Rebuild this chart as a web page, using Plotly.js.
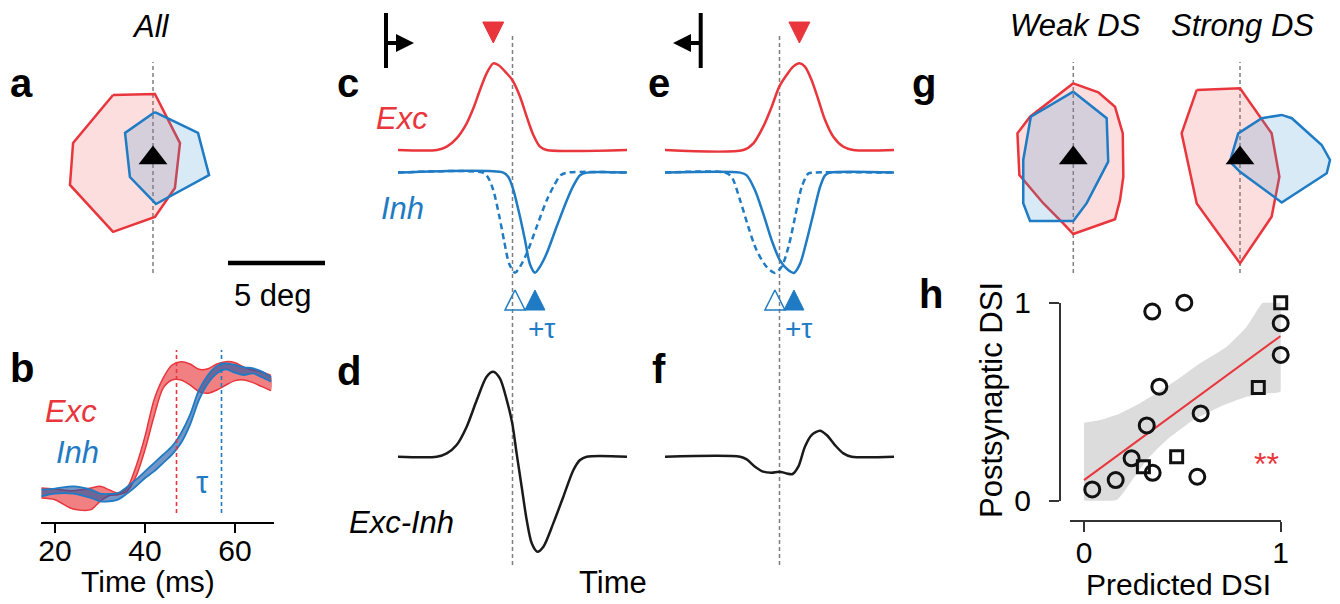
<!DOCTYPE html>
<html>
<head>
<meta charset="utf-8">
<script src="https://cdn.plot.ly/plotly-3.0.1.min.js"></script>
<style>
  html, body { margin: 0; padding: 0; background: #fff; }
  #fig { width: 1340px; height: 604px; }
</style>
</head>
<body>
<div id="fig"></div>
<script>
// ---------- a: average receptive fields, all cells (deg from RF centre) ----------
const rfAllExcX = [-2.06, 0.10, 1.39, 1.13, 0.10, -2.06, -4.28, -4.12];
const rfAllExcY = [3.25, 3.30, 0.77, -1.55, -3.04, -3.81, -1.39, 0.77];
const rfAllInhX = [0.10, 2.32, 2.89, 0.15, -1.19, -1.44];
const rfAllInhY = [2.37, 1.29, -0.88, -2.37, -0.98, 1.29];
const rfCentre = [0, 0];
const scaleBarDeg = 5;

// ---------- b: onset of Exc and Inh conductances (ms), mean ± s.e.m. ----------
const onsetTime = [17, 20, 24, 28, 30, 32, 34, 36, 38, 40, 42, 44, 46, 48, 50, 52, 54, 56, 58, 60, 62, 64, 66, 68];
const excUpper = [0.039, 0.031, 0.018, 0.039, 0.052, 0.026, 0.0, 0.039, 0.208, 0.442, 0.727, 0.896, 1.0, 1.026, 1.008, 0.966, 0.971, 1.008, 1.026, 1.018, 0.982, 0.961, 0.945, 0.919];
const excLower = [-0.039, -0.052, -0.125, -0.130, -0.065, -0.021, -0.013, 0.013, 0.130, 0.338, 0.597, 0.818, 0.883, 0.883, 0.844, 0.792, 0.779, 0.805, 0.844, 0.878, 0.883, 0.862, 0.831, 0.800];
const inhUpper = [0.026, 0.034, 0.052, 0.026, -0.005, -0.008, 0.0, 0.047, 0.104, 0.169, 0.234, 0.299, 0.364, 0.468, 0.610, 0.805, 0.922, 0.992, 1.013, 1.0, 0.982, 0.974, 0.948, 0.904];
const inhLower = [-0.026, -0.005, -0.005, -0.039, -0.065, -0.065, -0.052, -0.005, 0.052, 0.117, 0.169, 0.234, 0.299, 0.390, 0.532, 0.727, 0.857, 0.935, 0.966, 0.940, 0.922, 0.935, 0.904, 0.870];
const excPeakTime = 47;
const inhPeakTime = 57;
const timeTicks = [20, 40, 60];

// ---------- c, d: preferred direction model (time in a.u., stimulus centre = 50) ----------
const stimCentre = 50;
const prefExcT = [0, 17, 21.3, 25.6, 30, 32.9, 35.8, 38.7, 41.6, 43.8, 47.5, 49.9, 53.3, 56.2, 59.1, 62, 64.9, 100];
const prefExcG = [0, 0, 0.038, 0.134, 0.307, 0.479, 0.690, 0.881, 0.996, 0.977, 0.881, 0.805, 0.613, 0.383, 0.172, 0.038, 0, 0];
const prefInhT = [0, 46, 48.2, 50.4, 53.3, 55.5, 57.6, 59.8, 62.0, 64.9, 69.3, 73.7, 76.6, 79.5, 82.4, 100];
const prefInhG = [0, 0, -0.05, -0.20, -0.51, -0.78, -1.05, -1.15, -1.08, -0.93, -0.62, -0.32, -0.15, -0.03, 0, 0];
const prefInhNoDelayT = [0, 37, 39.2, 41.6, 44.3, 46.3, 48.6, 51.1, 53.3, 56.2, 60.6, 64.9, 68.1, 71.0, 73.9, 100];
const prefInhNoDelayG = [0, 0, -0.05, -0.20, -0.51, -0.78, -1.05, -1.15, -1.08, -0.93, -0.62, -0.32, -0.15, -0.03, 0, 0];
const prefNetT = [0, 16.9, 21.3, 25.6, 30, 34.4, 38.7, 41.6, 44.5, 47.5, 49.9, 51.8, 54, 56.2, 58.4, 60.8, 63.5, 67.8, 72.2, 76.6, 79.5, 82.4, 100];
const prefNetG = [0, 0, 0.038, 0.134, 0.345, 0.651, 0.920, 0.977, 0.900, 0.651, 0.383, 0.038, -0.345, -0.728, -0.996, -1.092, -1.034, -0.766, -0.460, -0.153, -0.038, 0, 0];

// ---------- e, f: null direction model ----------
const nullExcT = [0, 34.2, 38.6, 42.9, 46.6, 49.9, 53.1, 56.0, 58.7, 61.1, 64.0, 67.0, 69.9, 73.5, 77.9, 82.2, 100];
const nullExcG = [0, 0, 0.077, 0.268, 0.498, 0.728, 0.862, 0.958, 0.996, 0.958, 0.805, 0.575, 0.345, 0.153, 0.038, 0, 0];
const nullInhT = [0, 32.8, 35.7, 39.3, 42.9, 46.6, 50.2, 53.9, 56.3, 59.0, 61.9, 64.8, 67.7, 69.9, 72.1, 100];
const nullInhG = [0, 0, -0.031, -0.203, -0.471, -0.778, -1.008, -1.123, -1.153, -1.046, -0.778, -0.471, -0.165, -0.031, 0, 0];
const nullInhNoDelayT = [0, 26.2, 29.1, 32.8, 36.4, 40.0, 44.4, 48.0, 50.9, 53.9, 56.8, 59.7, 62.6, 64.8, 100];
const nullInhNoDelayG = [0, 0, -0.05, -0.318, -0.625, -0.893, -1.084, -1.153, -1.084, -0.854, -0.510, -0.165, -0.011, 0, 0];
const nullNetT = [0, 32.8, 35.7, 39.3, 42.9, 46.6, 49.9, 53.1, 55.7, 58.2, 61.1, 64.0, 67.7, 70.6, 74.2, 77.9, 81.5, 100];
const nullNetG = [0, 0, -0.031, -0.115, -0.172, -0.184, -0.172, -0.192, -0.199, -0.115, 0.115, 0.249, 0.299, 0.249, 0.134, 0.038, 0, 0];

// ---------- g: example receptive fields (deg from RF centre) ----------
const rfWeakExcX = [0, 1.29, 2.15, 2.55, 2.58, 2.41, 2.15, 0, -0.52, -1.55, -2.78, -2.88, -2.23];
const rfWeakExcY = [3.85, 3.39, 2.64, 1.27, -0.96, -2.16, -3.16, -3.92, -3.37, -2.33, -0.88, 1.27, 2.13];
const rfWeakInhX = [0, 1.72, 1.80, 0.69, 0, -2.23, -2.58, -2.58, -2.19];
const rfWeakInhY = [3.42, 2.05, -0.19, -2.33, -3.25, -3.25, -2.33, -0.10, 2.13];
const rfStrongExcX = [-2.23, 0, 1.63, 2.03, 1.63, 0, -2.23, -3.01];
const rfStrongExcY = [3.51, 3.60, 1.27, -0.96, -3.03, -5.43, -2.34, 1.27];
const rfStrongInhX = [-0.52, -0.09, 1.12, 2.15, 2.67, 4.21, 4.64, 4.47, 2.15, 0];
const rfStrongInhY = [-0.19, 1.27, 2.05, 2.22, 2.05, 0.67, -0.10, -0.79, -2.29, -0.71];

// ---------- h: predicted vs postsynaptic DSI ----------
const dsiCirclePred = [0.042, 0.161, 0.242, 0.349, 0.319, 0.383, 0.347, 0.510, 0.593, 0.576, 1.0, 1.0];
const dsiCirclePost = [0.057, 0.104, 0.214, 0.141, 0.380, 0.576, 0.955, 1.0, 0.441, 0.121, 0.896, 0.736];
const dsiSquarePred = [1.0, 0.886, 0.471, 0.302];
const dsiSquarePost = [1.0, 0.572, 0.222, 0.172];
const fitPred = [0, 1];
const fitPost = [0.104, 0.832];
const ciUpperX = [0, 0.081, 0.183, 0.268, 0.353, 0.471, 0.590, 0.725, 0.827, 0.920, 1.0];
const ciUpperY = [0.394, 0.407, 0.441, 0.483, 0.534, 0.609, 0.694, 0.778, 0.879, 1.013, 1.017];
const ciLowerX = [0, 0.166, 0.234, 0.319, 0.420, 0.556, 0.692, 0.827, 0.929, 1.0];
const ciLowerY = [0, 0.003, 0.088, 0.205, 0.306, 0.407, 0.475, 0.525, 0.542, 0.551];
const dsiTicks = [0, 1];

// ---------- styling ----------
const W = 1340, H = 604;
const FONT = 'Liberation Sans, Arial, Helvetica, sans-serif';
const RED = '#e8363c', BLUE = '#1f7bc4', GRAY = '#7f7f7f';
const RED_RF_FILL = 'rgba(240,90,95,0.20)', BLUE_RF_FILL = 'rgba(60,150,205,0.20)';
const fx = p => p / W;
const fy = p => 1 - p / H;
const closeLoop = a => a.concat([a[0]]);
const argExt = (arr, sign) => arr.reduce((bi, v, i) => (sign * v > sign * arr[bi] ? i : bi), 0);

// axis range from a pixel box, an anchor pixel with a known value, and a px/unit scale
const xRange = (p0, p1, ap, av, s) => [av + (p0 - ap) / s, av + (p1 - ap) / s];
const yRange = (pTop, pBot, ap, av, s) => [av - (pBot - ap) / s, av - (pTop - ap) / s];
const hiddenAxis = (domain, range) => ({ domain, range, visible: false, fixedrange: true, showgrid: false, zeroline: false });
const xDom = (a, b) => [fx(a), fx(b)];
const yDom = (top, bot) => [fy(bot), fy(top)];

const DEG = 19.4;          // px per degree for RF panels
const GSCALE = 87;         // px per conductance unit for model panels
const inhOffset = -0.26;   // Inh trace drawn just below Exc

const traces = [];
const line = (x, y, xa, ya, color, width, dash, shape) => ({
  type: 'scatter', mode: 'lines', x, y, xaxis: xa, yaxis: ya, hoverinfo: 'skip', cliponaxis: false,
  line: { color, width, dash: dash || 'solid', shape: shape || 'linear', smoothing: 0.8 }
});
const poly = (x, y, xa, ya, color, fill, width) => ({
  type: 'scatter', mode: 'lines', x: closeLoop(x), y: closeLoop(y), xaxis: xa, yaxis: ya,
  fill: 'toself', fillcolor: fill, line: { color, width: width || 2.5 }, hoverinfo: 'skip', cliponaxis: false
});
const marker = (x, y, xa, ya, symbol, size, color, lw) => ({
  type: 'scatter', mode: 'markers', x, y, xaxis: xa, yaxis: ya, hoverinfo: 'skip', cliponaxis: false,
  marker: { symbol, size, color, line: { color, width: lw || 0 } }
});

// a
traces.push(poly(rfAllExcX, rfAllExcY, 'x', 'y', RED, RED_RF_FILL));
traces.push(poly(rfAllInhX, rfAllInhY, 'x', 'y', BLUE, BLUE_RF_FILL));
traces.push(marker([rfCentre[0]], [rfCentre[1]], 'x', 'y', 'triangle-up', 25, '#000'));

// b: bands
const band = (t, up, lo) => ({ x: t.concat([...t].reverse()), y: up.concat([...lo].reverse()) });
const eb = band(onsetTime, excUpper, excLower);
traces.push({ type: 'scatter', mode: 'lines', x: eb.x, y: eb.y, xaxis: 'x2', yaxis: 'y2', fill: 'toself',
  fillcolor: 'rgba(232,50,55,0.62)', line: { width: 0, shape: 'spline', smoothing: 0.6 }, hoverinfo: 'skip' });
traces.push(line(onsetTime, excUpper, 'x2', 'y2', RED, 1.5, 'solid', 'spline'));
traces.push(line(onsetTime, excLower, 'x2', 'y2', RED, 1.5, 'solid', 'spline'));
const ib = band(onsetTime, inhUpper, inhLower);
traces.push({ type: 'scatter', mode: 'lines', x: ib.x, y: ib.y, xaxis: 'x2', yaxis: 'y2', fill: 'toself',
  fillcolor: 'rgba(30,85,165,0.62)', line: { width: 0, shape: 'spline', smoothing: 0.6 }, hoverinfo: 'skip' });
traces.push(line(onsetTime, inhUpper, 'x2', 'y2', BLUE, 1.8, 'solid', 'spline'));
traces.push(line(onsetTime, inhLower, 'x2', 'y2', BLUE, 1.8, 'solid', 'spline'));

// c, e: Exc on top, Inh (delayed solid, undelayed dashed) below
const shift = arr => arr.map(v => v + inhOffset);
const troughMarkTipY = (150 - 290) / GSCALE;   // arrow symbols are anchored at their tip
const peakMarkTipY = (150 - 43) / GSCALE;
[['x3', 'y3', prefExcT, prefExcG, prefInhT, prefInhG, prefInhNoDelayT, prefInhNoDelayG],
 ['x5', 'y5', nullExcT, nullExcG, nullInhT, nullInhG, nullInhNoDelayT, nullInhNoDelayG]].forEach(p => {
  const [xa, ya, eT, eG, iT, iG, nT, nG] = p;
  traces.push(line(eT, eG, xa, ya, RED, 2.5, 'solid', 'spline'));
  traces.push(line(nT, shift(nG), xa, ya, BLUE, 2.5, '6px,4px', 'spline'));
  traces.push(line(iT, shift(iG), xa, ya, BLUE, 2.5, 'solid', 'spline'));
  traces.push(marker([eT[argExt(eG, 1)]], [peakMarkTipY], xa, ya, 'arrow-down', 21, RED, 1));
  traces.push(marker([nT[argExt(nG, -1)]], [troughMarkTipY], xa, ya, 'arrow-up-open', 20, BLUE, 1.5));
  traces.push(marker([iT[argExt(iG, -1)]], [troughMarkTipY], xa, ya, 'arrow-up', 20, BLUE, 1));
});

// d, f: net conductance
traces.push(line(prefNetT, prefNetG, 'x4', 'y4', '#1a1a1a', 2.5, 'solid', 'spline'));
traces.push(line(nullNetT, nullNetG, 'x6', 'y6', '#1a1a1a', 2.5, 'solid', 'spline'));

// g
traces.push(poly(rfWeakExcX, rfWeakExcY, 'x7', 'y7', RED, RED_RF_FILL));
traces.push(poly(rfWeakInhX, rfWeakInhY, 'x7', 'y7', BLUE, BLUE_RF_FILL));
traces.push(marker([rfCentre[0]], [rfCentre[1]], 'x7', 'y7', 'triangle-up', 25, '#000'));
traces.push(poly(rfStrongExcX, rfStrongExcY, 'x8', 'y8', RED, RED_RF_FILL));
traces.push(poly(rfStrongInhX, rfStrongInhY, 'x8', 'y8', BLUE, BLUE_RF_FILL));
traces.push(marker([rfCentre[0]], [rfCentre[1]], 'x8', 'y8', 'triangle-up', 25, '#000'));

// h
traces.push({ type: 'scatter', mode: 'lines', x: ciUpperX.concat([...ciLowerX].reverse()),
  y: ciUpperY.concat([...ciLowerY].reverse()), xaxis: 'x9', yaxis: 'y9', fill: 'toself',
  fillcolor: '#dcdcdc', line: { width: 0, shape: 'spline', smoothing: 0.5 }, hoverinfo: 'skip', cliponaxis: false });
traces.push(line(fitPred, fitPost, 'x9', 'y9', RED, 2));
traces.push(marker(dsiCirclePred, dsiCirclePost, 'x9', 'y9', 'circle-open', 15, '#111', 3));
traces.push(marker(dsiSquarePred, dsiSquarePost, 'x9', 'y9', 'square-open', 12, '#111', 3));

// ---------- shapes ----------
const dashed = { color: GRAY, width: 1.5, dash: '4px,3px' };
const scaleBarStart = (228 - 153) / DEG;
const pathPx = pts => 'M' + pts.map(p => fx(p[0]) + ',' + fy(p[1])).join(' L') + ' Z';
const vDash = (xref, x, top, bot) => ({ type: 'line', layer: 'below', xref, yref: 'paper', x0: x, x1: x, y0: fy(bot), y1: fy(top), line: dashed });
const shapes = [
  vDash('x', 0, 62, 273),
  { type: 'line', xref: 'x', yref: 'paper', x0: scaleBarStart, x1: scaleBarStart + scaleBarDeg, y0: fy(263), y1: fy(263), line: { color: '#000', width: 4.5 } },
  { type: 'line', xref: 'x2', yref: 'y2', x0: excPeakTime, x1: excPeakTime, y0: -0.156, y1: 1.117, line: { color: RED, width: 1.6, dash: '4px,3px' } },
  { type: 'line', xref: 'x2', yref: 'y2', x0: inhPeakTime, x1: inhPeakTime, y0: -0.156, y1: 1.117, line: { color: BLUE, width: 1.6, dash: '4px,3px' } },
  vDash('x3', stimCentre, 33, 565),
  vDash('x5', stimCentre, 33, 565),
  vDash('x7', 0, 62, 273),
  vDash('x8', 0, 62, 273),
  // motion icons: preferred (right) and null (left)
  { type: 'line', xref: 'paper', yref: 'paper', x0: fx(386), x1: fx(386), y0: fy(68), y1: fy(13), line: { color: '#000', width: 4 } },
  { type: 'line', xref: 'paper', yref: 'paper', x0: fx(386), x1: fx(400), y0: fy(43), y1: fy(43), line: { color: '#000', width: 4 } },
  { type: 'path', xref: 'paper', yref: 'paper', path: pathPx([[396, 34], [414, 43], [396, 52]]), fillcolor: '#000', line: { width: 0 } },
  { type: 'line', xref: 'paper', yref: 'paper', x0: fx(700.7), x1: fx(700.7), y0: fy(68), y1: fy(13), line: { color: '#000', width: 4 } },
  { type: 'line', xref: 'paper', yref: 'paper', x0: fx(687), x1: fx(700.7), y0: fy(43), y1: fy(43), line: { color: '#000', width: 4 } },
  { type: 'path', xref: 'paper', yref: 'paper', path: pathPx([[691, 34], [673, 43], [691, 52]]), fillcolor: '#000', line: { width: 0 } }
];

// ---------- text ----------
const ann = (text, x, y, size, opts) => Object.assign({
  text, xref: 'paper', yref: 'paper', x: fx(x), y: fy(y), xanchor: 'center', yanchor: 'middle',
  showarrow: false, font: { family: FONT, size, color: '#000' }
}, opts || {});
const italic = t => '<i>' + t + '</i>';
const bold = t => '<b>' + t + '</b>';
const col = (size, color) => ({ font: { family: FONT, size, color } });
const L = 40, T = 31;
const annotations = [
  ann(bold('a'), 21, 83, L), ann(bold('b'), 22, 368, L),
  ann(bold('c'), 348, 83, L), ann(bold('d'), 349, 371, L),
  ann(bold('e'), 659, 83, L), ann(bold('f'), 659, 369, L),
  ann(bold('g'), 924, 83, L), ann(bold('h'), 931, 294, L),
  ann(italic('All'), 151, 26, T),
  ann('5 deg', 273, 295, T),
  ann(italic('Exc'), 71, 411, T, col(T, RED)),
  ann(italic('Inh'), 77, 452, T, col(T, BLUE)),
  ann('τ', 202, 482, T, col(T, BLUE)),
  ann('Time (ms)', 148, 581, 30),
  ann(italic('Exc'), 402, 119, T, col(T, RED)),
  ann(italic('Inh'), 402, 209, T, col(T, BLUE)),
  ann('+τ', 541, 328, 28, col(28, BLUE)),
  ann('+τ', 798, 328, 28, col(28, BLUE)),
  ann(italic('Exc-Inh'), 401, 522, T),
  ann('Time', 613, 582, T),
  ann(italic('Weak DS'), 1075, 25, T),
  ann(italic('Strong DS'), 1242, 25, T),
  ann('Postsynaptic DSI', 991, 400, T, { textangle: -90 }),
  ann('Predicted DSI', 1178, 584, 30),
  ann('**', 1266, 464, 32, col(32, RED))
];

// ---------- axes ----------
const tickStyle = {
  showline: true, linecolor: '#000', linewidth: 2.5, ticks: 'outside', ticklen: 9, tickwidth: 2.5, tickcolor: '#000',
  tickfont: { family: FONT, size: 30, color: '#000' }, showgrid: false, zeroline: false, fixedrange: true
};
const layout = {
  width: W, height: H, margin: { l: 0, r: 0, t: 0, b: 0 }, showlegend: false,
  paper_bgcolor: '#fff', plot_bgcolor: 'rgba(0,0,0,0)', font: { family: FONT },
  xaxis: hiddenAxis(xDom(40, 340), xRange(40, 340, 153, 0, DEG)),
  yaxis: hiddenAxis(yDom(40, 290), yRange(40, 290, 158, 0, DEG)),
  xaxis2: Object.assign({}, tickStyle, { domain: xDom(41, 274), range: xRange(41, 274, 55, 20, 4.5), anchor: 'y2',
    tickvals: timeTicks, ticklabelstandoff: -8 }),
  yaxis2: hiddenAxis(yDom(340, 521.5), yRange(340, 521.5, 493, 0, 128)),
  xaxis3: hiddenAxis(xDom(398, 627), [0, 100]),
  yaxis3: hiddenAxis(yDom(10, 310), yRange(10, 310, 150, 0, GSCALE)),
  xaxis4: hiddenAxis(xDom(398, 627), [0, 100]),
  yaxis4: hiddenAxis(yDom(320, 580), yRange(320, 580, 456.7, 0, GSCALE)),
  xaxis5: hiddenAxis(xDom(665, 894), [0, 100]),
  yaxis5: hiddenAxis(yDom(10, 310), yRange(10, 310, 150, 0, GSCALE)),
  xaxis6: hiddenAxis(xDom(665, 894), [0, 100]),
  yaxis6: hiddenAxis(yDom(320, 580), yRange(320, 580, 456.7, 0, GSCALE)),
  xaxis7: hiddenAxis(xDom(985, 1160), xRange(985, 1160, 1073.3, 0, DEG)),
  yaxis7: hiddenAxis(yDom(40, 290), yRange(40, 290, 158, 0, DEG)),
  xaxis8: hiddenAxis(xDom(1160, 1340), xRange(1160, 1340, 1240, 0, DEG)),
  yaxis8: hiddenAxis(yDom(40, 290), yRange(40, 290, 158, 0, DEG)),
  xaxis9: Object.assign({}, tickStyle, { domain: xDom(1070, 1280.7), range: xRange(1070, 1280.7, 1084, 0, 196.7),
    anchor: 'free', position: fy(520.5), tickvals: dsiTicks, linecolor: '#333', tickcolor: '#333',
    linewidth: 2, tickwidth: 2, ticklen: 10, ticklabelstandoff: -5 }),
  yaxis9: Object.assign({}, tickStyle, { domain: yDom(302.7, 500.7), range: [0, 1],
    anchor: 'free', position: fx(1060), tickvals: dsiTicks, linecolor: '#333', tickcolor: '#333',
    linewidth: 2, tickwidth: 2, ticklen: 10, ticklabelstandoff: 12 }),
  shapes, annotations
};

Plotly.newPlot('fig', traces, layout, { displayModeBar: false, staticPlot: true });
</script>
</body>
</html>
